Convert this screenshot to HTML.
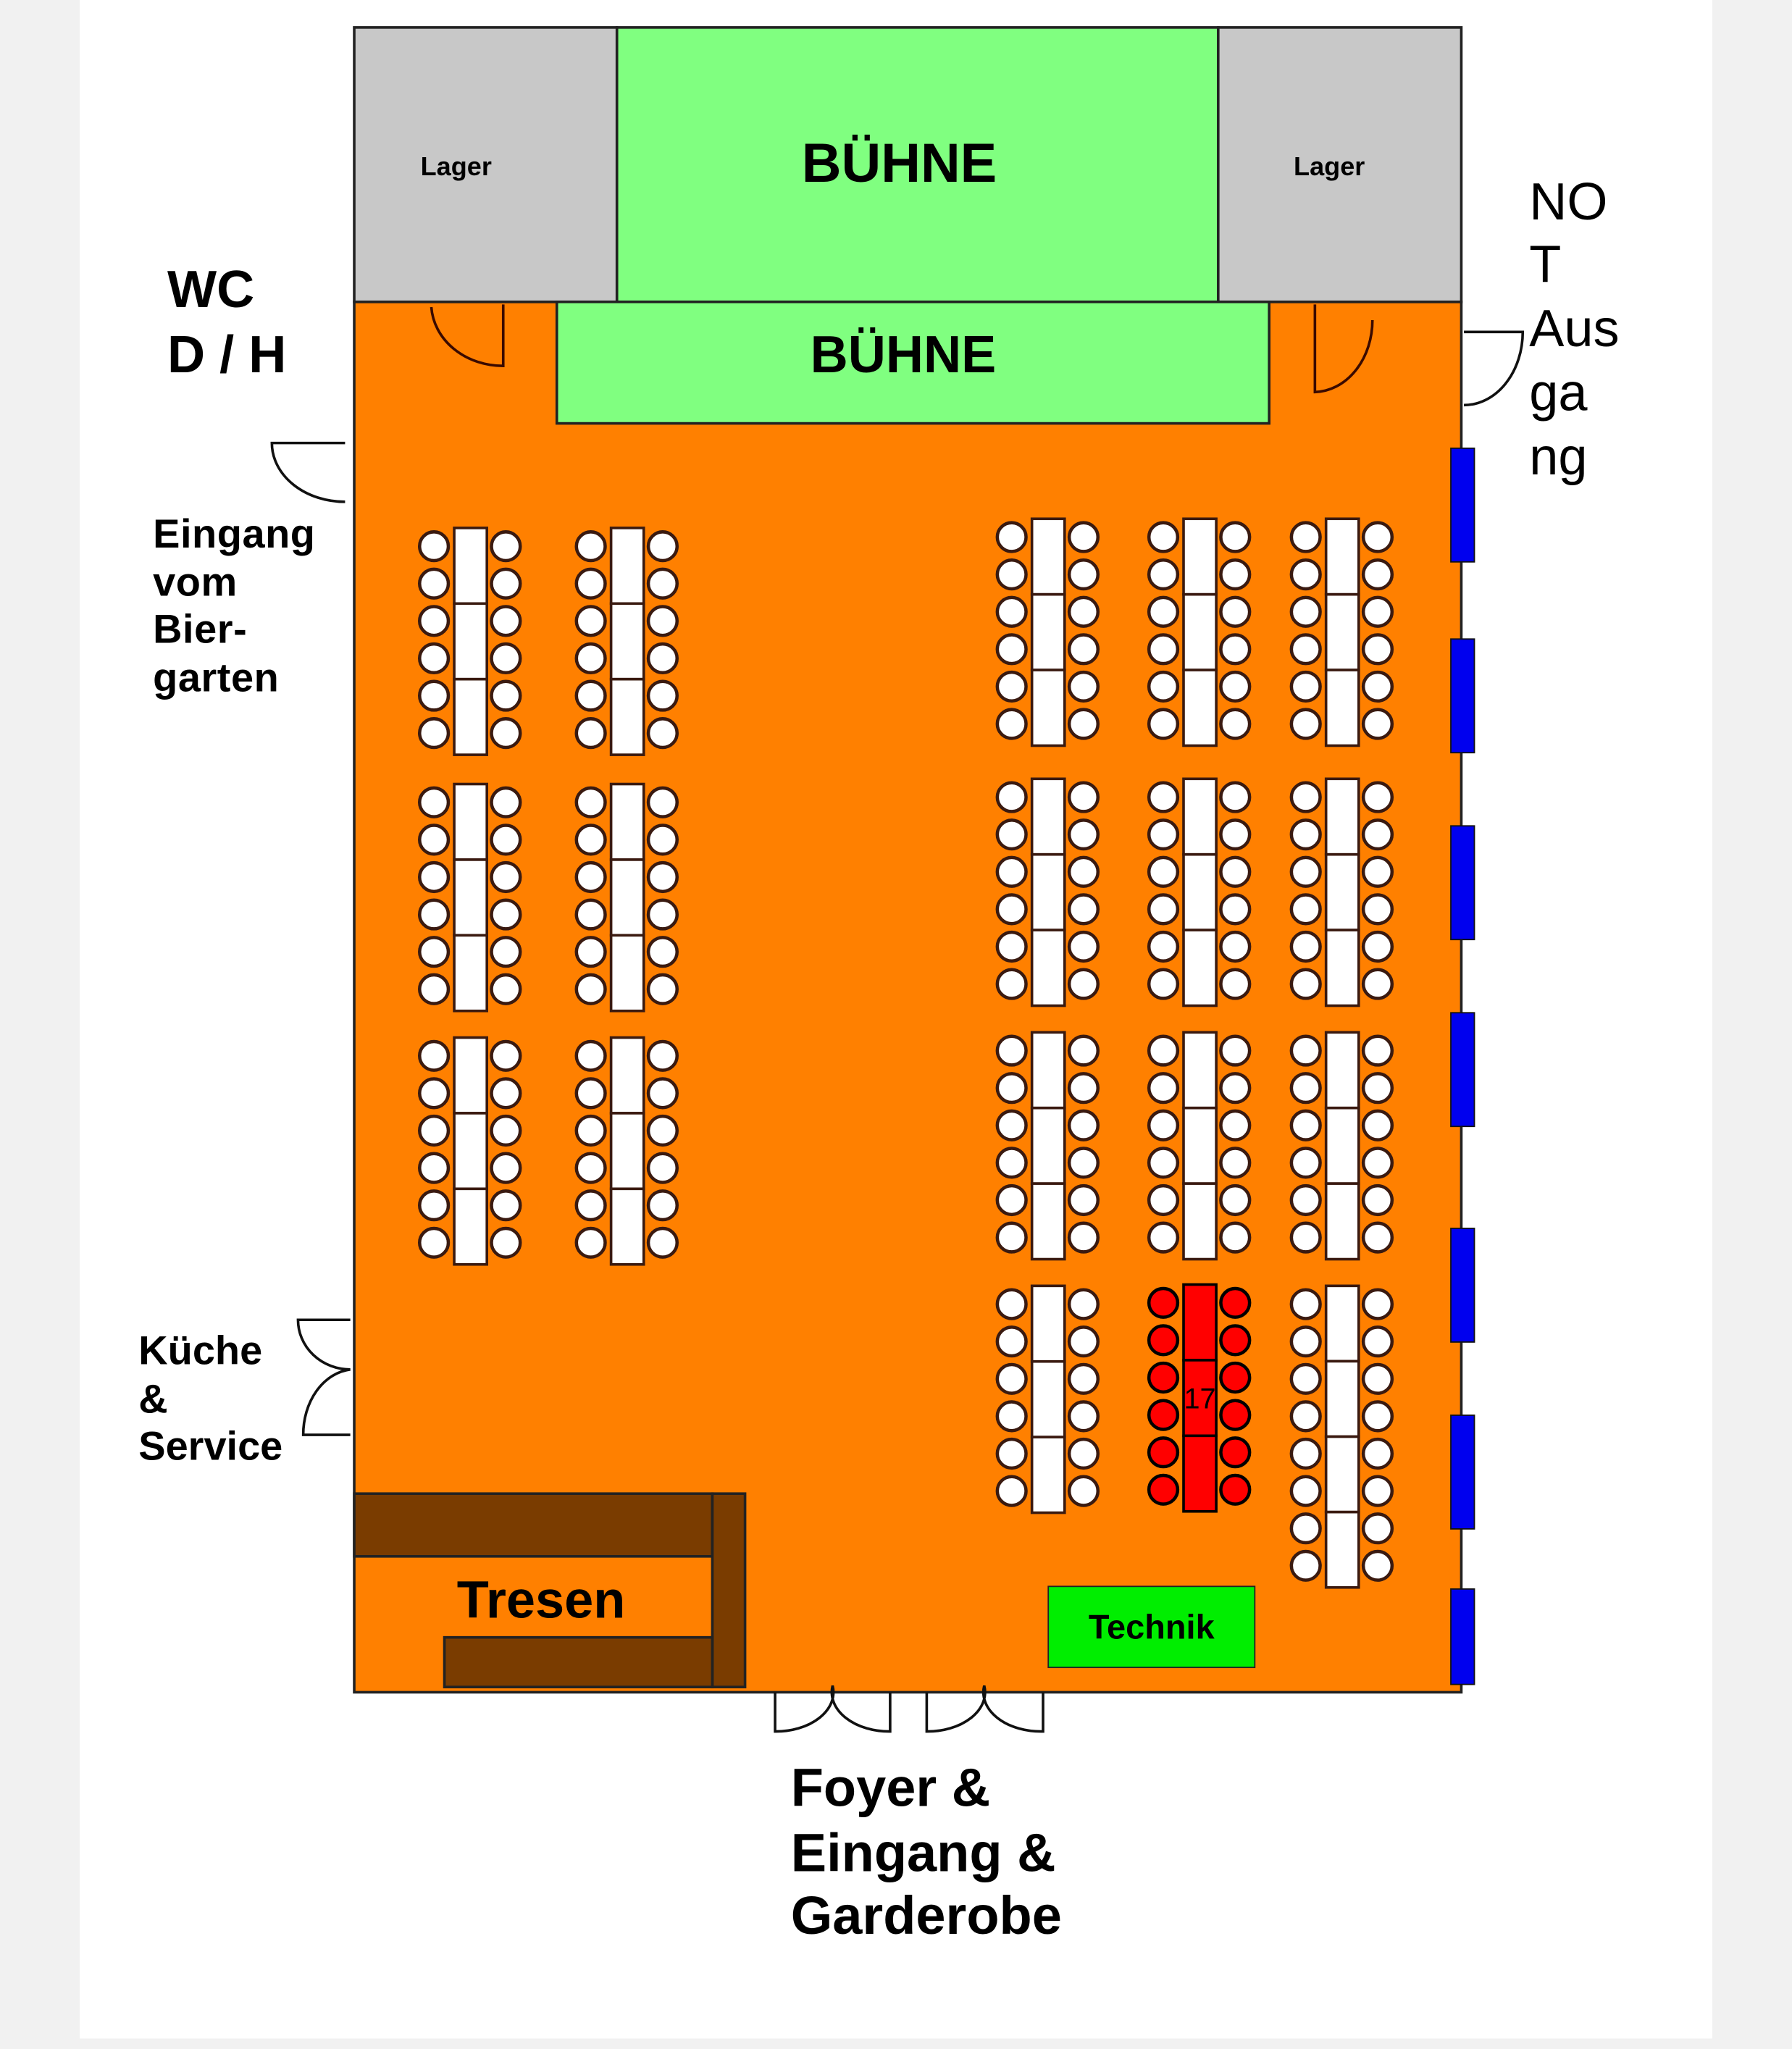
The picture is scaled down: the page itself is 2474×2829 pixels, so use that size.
<!DOCTYPE html>
<html><head><meta charset="utf-8"><style>html,body{margin:0;padding:0;background:#f1f1f1}svg{display:block}text{font-family:"Liberation Sans",sans-serif}</style></head>
<body>
<svg id="s" width="2474" height="2829" viewBox="0 0 1371 1568" preserveAspectRatio="none" xmlns="http://www.w3.org/2000/svg">
<rect x="0" y="0" width="1371" height="1568" fill="#f1f1f1"/>
<rect x="61" y="0" width="1249" height="1560" fill="#ffffff"/>
<rect x="271" y="231" width="847" height="1064" fill="#ff8000" stroke="#222" stroke-width="2"/>
<rect x="271" y="21" width="201" height="210" fill="#c8c8c8" stroke="#222" stroke-width="2"/>
<rect x="472" y="21" width="460" height="210" fill="#80ff80" stroke="#222" stroke-width="2"/>
<rect x="932" y="21" width="186" height="210" fill="#c8c8c8" stroke="#222" stroke-width="2"/>
<rect x="426" y="231" width="545" height="93" fill="#80ff80" stroke="#222" stroke-width="2"/>
<text x="349" y="134" font-size="20" font-weight="bold" text-anchor="middle">Lager</text>
<text x="1017" y="134" font-size="20" font-weight="bold" text-anchor="middle">Lager</text>
<text x="688" y="139" font-size="42" font-weight="bold" text-anchor="middle">BÜHNE</text>
<text x="691" y="285" font-size="40" font-weight="bold" text-anchor="middle">BÜHNE</text>
<g fill="none" stroke="#3a0a00" stroke-width="2">
<path d="M385 233 V280 A55 48 0 0 1 330 235"/>
<path d="M1006 233 V300 A45 55 0 0 0 1050 245"/>
<path d="M264 339 H208 A56 45 0 0 0 264 384" stroke="#111"/>
<path d="M1120 254 H1165 A45 56 0 0 1 1120 310" stroke="#111"/>
<path d="M268 1010 H228 A40 38 0 0 0 268 1048 A40 50 0 0 0 232 1098 H268" stroke="#111"/>
<path d="M593 1295 V1325 A44 30 0 0 0 637 1290 A44 30 0 0 0 681 1325 V1295" stroke="#111"/>
<path d="M709 1295 V1325 A44 30 0 0 0 753 1290 A44 30 0 0 0 798 1325 V1295" stroke="#111"/>
</g>
<g fill="#0000ee" stroke="#111" stroke-width="1">
<rect x="1110" y="343" width="18" height="87"/><rect x="1110" y="489" width="18" height="87"/>
<rect x="1110" y="632" width="18" height="87"/><rect x="1110" y="775" width="18" height="87"/>
<rect x="1110" y="940" width="18" height="87"/><rect x="1110" y="1083" width="18" height="87"/>
<rect x="1110" y="1216" width="18" height="73"/>
</g>
<g fill="#7a3c00" stroke="#222" stroke-width="2">
<rect x="271" y="1143" width="274" height="48"/>
<rect x="545" y="1143" width="25" height="148"/>
<rect x="340" y="1253" width="205" height="38"/>
</g>
<text x="414" y="1238" font-size="40" font-weight="bold" text-anchor="middle">Tresen</text>
<rect x="802" y="1214" width="158" height="62" fill="#00ee00" stroke="#222" stroke-width="1"/>
<text x="881" y="1254" font-size="26" font-weight="bold" text-anchor="middle">Technik</text>
<g id="tables"></g>
<g font-weight="bold" font-size="40"><text x="128" y="235">WC</text><text x="128" y="285">D / H</text></g>
<g font-size="40"><text x="1170" y="168">NO</text><text x="1170" y="216">T</text><text x="1170" y="265">Aus</text><text x="1170" y="314">ga</text><text x="1170" y="363">ng</text></g>
<g font-weight="bold" font-size="31" letter-spacing="0.3"><text x="117" y="419">Eingang</text><text x="117" y="456">vom</text><text x="117" y="492">Bier-</text><text x="117" y="529">garten</text></g>
<g font-weight="bold" font-size="31"><text x="106" y="1044">Küche</text><text x="106" y="1081">&amp;</text><text x="106" y="1117">Service</text></g>
<g font-weight="bold" font-size="41"><text x="605" y="1382">Foyer &amp;</text><text x="605" y="1432">Eingang &amp;</text><text x="605" y="1480">Garderobe</text></g>
</svg>
<script>
var g=document.getElementById('tables'),h='';
function T(cx,ty,n,red){var H=n*28.6+2,fill=red?'#ff0000':'#fff',st=red?'#000':'#3a1a10';
var parts=n>6?4:3,seg=H/parts;
for(var k=0;k<parts;k++)h+='<rect x="'+(cx-12.5)+'" y="'+(ty+k*seg)+'" width="25" height="'+seg+'" fill="'+fill+'" stroke="'+st+'" stroke-width="2"/>';
for(var i=0;i<n;i++){var y=ty+14+i*28.6;
h+='<circle cx="'+(cx-28)+'" cy="'+y+'" r="11" fill="'+fill+'" stroke="'+st+'" stroke-width="2.5"/>';
h+='<circle cx="'+(cx+27)+'" cy="'+y+'" r="11" fill="'+fill+'" stroke="'+st+'" stroke-width="2.5"/>';}
if(red)h+='<text x="'+cx+'" y="'+(ty+H/2+8)+'" font-size="22" text-anchor="middle">17</text>';}
[404,600,794].forEach(function(y){T(360,y,6);T(480,y,6);});
[397,596,790].forEach(function(y){T(802,y,6);T(918,y,6);T(1027,y,6);});
T(802,984,6);T(918,983,6,true);T(1027,984,8);
g.innerHTML=h;
</script>
</body></html>
